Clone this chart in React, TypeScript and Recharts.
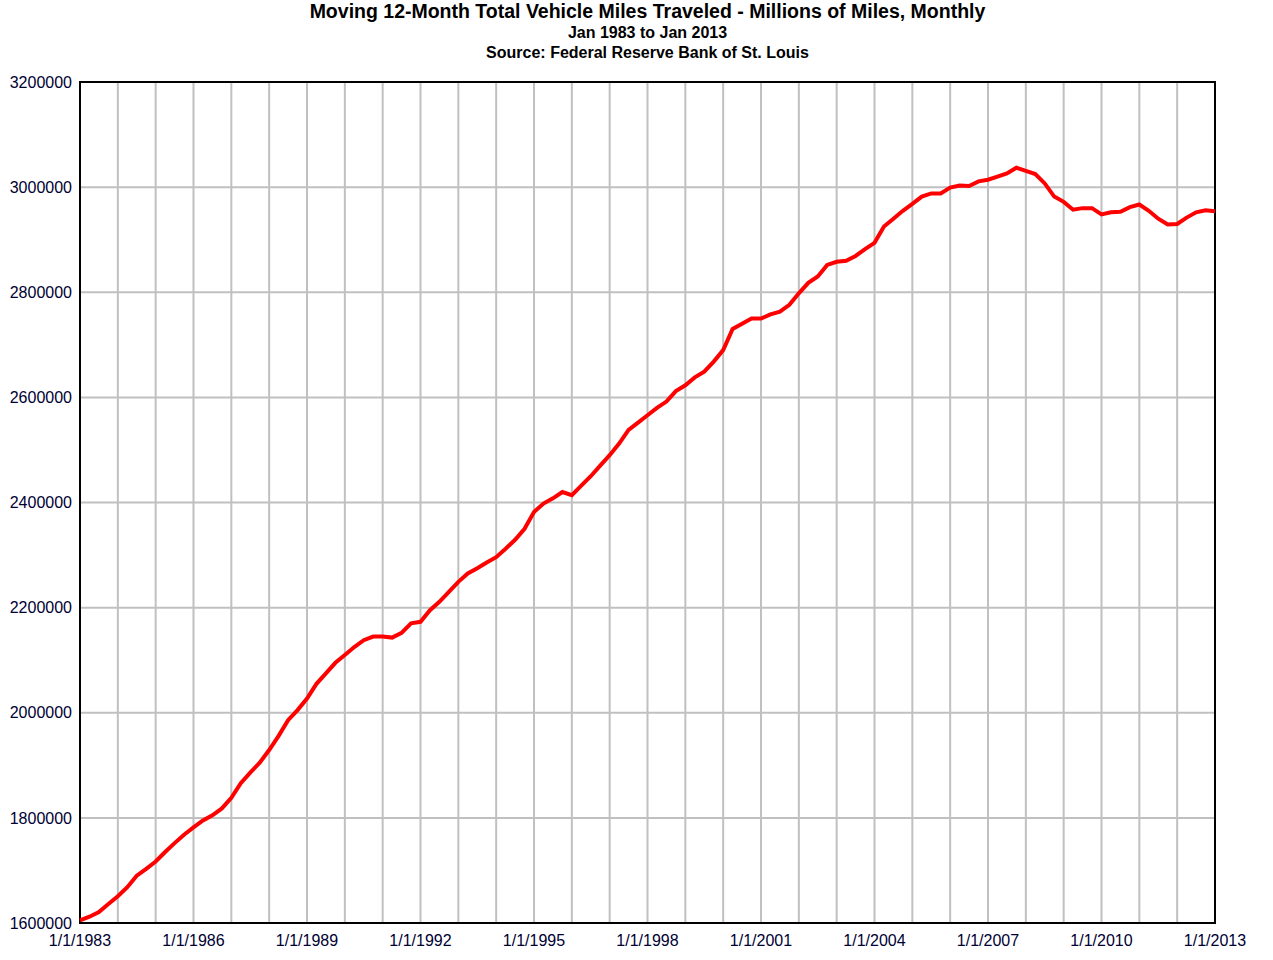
import {
  LineChart,
  Line,
  XAxis,
  YAxis,
  CartesianGrid,
  ReferenceArea,
} from "recharts";

const startYear = 1983;
const endYear = 2013;

// quarterly readings (Jan, Apr, Jul, Oct), millions of miles
const milesByQuarter = [
  1605000, 1612000, 1621000, 1636000, // 1983
  1651000, 1668000, 1690000, 1703000, // 1984
  1717000, 1735000, 1752000, 1768000, // 1985
  1782000, 1795000, 1805000, 1818000, // 1986
  1838000, 1866000, 1886000, 1905000, // 1987
  1929000, 1956000, 1986000, 2005000, // 1988
  2027000, 2055000, 2075000, 2095000, // 1989
  2110000, 2125000, 2138000, 2145000, // 1990
  2145000, 2143000, 2152000, 2170000, // 1991
  2173000, 2195000, 2211000, 2230000, // 1992
  2249000, 2265000, 2275000, 2286000, // 1993
  2296000, 2312000, 2329000, 2350000, // 1994
  2382000, 2398000, 2408000, 2420000, // 1995
  2414000, 2432000, 2450000, 2470000, // 1996
  2490000, 2512000, 2538000, 2552000, // 1997
  2566000, 2580000, 2592000, 2612000, // 1998
  2623000, 2638000, 2649000, 2668000, // 1999
  2690000, 2730000, 2740000, 2750000, // 2000
  2750000, 2758000, 2763000, 2776000, // 2001
  2798000, 2818000, 2830000, 2852000, // 2002
  2858000, 2860000, 2869000, 2882000, // 2003
  2894000, 2925000, 2940000, 2955000, // 2004
  2968000, 2982000, 2988000, 2988000, // 2005
  2999000, 3003000, 3002000, 3011000, // 2006
  3014000, 3020000, 3026000, 3037000, // 2007
  3031000, 3025000, 3007000, 2982000, // 2008
  2972000, 2957000, 2960000, 2960000, // 2009
  2948000, 2952000, 2953000, 2962000, // 2010
  2967000, 2955000, 2940000, 2929000, // 2011
  2930000, 2942000, 2952000, 2956000, // 2012
  2954000, // Jan 2013
];

const yTicks = [1600000, 1800000, 2000000, 2200000, 2400000, 2600000, 2800000, 3000000, 3200000];
const yearTicks = Array.from({ length: endYear - startYear + 1 }, (_, i) => startYear + i);

const data = milesByQuarter.map((v, i) => ({ t: startYear + i / 4, miles: v }));

const font = "Arial, 'Liberation Sans', sans-serif";
const labelColor = "#000033";

export default function App() {
  return (
    <div style={{ position: "absolute", left: 0, top: 0, width: 1273, height: 960, background: "#fff", fontFamily: font }}>
      <div style={{ position: "absolute", left: 0, width: 1295, top: 0, textAlign: "center", fontWeight: "bold", fontSize: 19.5, color: "#000" }}>
        Moving 12-Month Total Vehicle Miles Traveled - Millions of Miles, Monthly
      </div>
      <div style={{ position: "absolute", left: 0, width: 1295, top: 24, textAlign: "center", fontWeight: "bold", fontSize: 16, color: "#000" }}>
        Jan 1983 to Jan 2013
      </div>
      <div style={{ position: "absolute", left: 0, width: 1295, top: 44, textAlign: "center", fontWeight: "bold", fontSize: 16, color: "#000" }}>
        Source: Federal Reserve Bank of St. Louis
      </div>
      <div style={{ position: "absolute", left: 0, top: 0 }}>
        <LineChart
          width={1273}
          height={960}
          data={data}
          margin={{ top: 82, right: 58, bottom: 7, left: 0 }}
        >
          <CartesianGrid stroke="#c0c0c0" strokeWidth={2} verticalValues={yearTicks} horizontalValues={yTicks} />
          <XAxis
            dataKey="t"
            type="number"
            domain={[startYear, endYear]}
            ticks={yearTicks}
            interval={0}
            height={30}
            tickLine={false}
            axisLine={false}
            tickMargin={6}
            tick={{ fill: labelColor, fontSize: 16, fontFamily: font }}
            tickFormatter={(y: number) => ((y - startYear) % 3 === 0 ? `1/1/${y}` : "")}
          />
          <YAxis
            type="number"
            domain={[1600000, 3200000]}
            ticks={yTicks}
            interval={0}
            width={80}
            tickLine={false}
            axisLine={false}
            tick={{ fill: labelColor, fontSize: 16, fontFamily: font }}
            tickFormatter={(v: number) => String(v)}
          />
          <Line
            type="linear"
            dataKey="miles"
            stroke="#ff0000"
            strokeWidth={4}
            dot={false}
            isAnimationActive={false}
          />
          <ReferenceArea
            x1={startYear}
            x2={endYear}
            y1={1600000}
            y2={3200000}
            fill="none"
            fillOpacity={0}
            stroke="#000"
            strokeWidth={2}
            strokeOpacity={1}
            ifOverflow="visible"
          />
        </LineChart>
      </div>
    </div>
  );
}
